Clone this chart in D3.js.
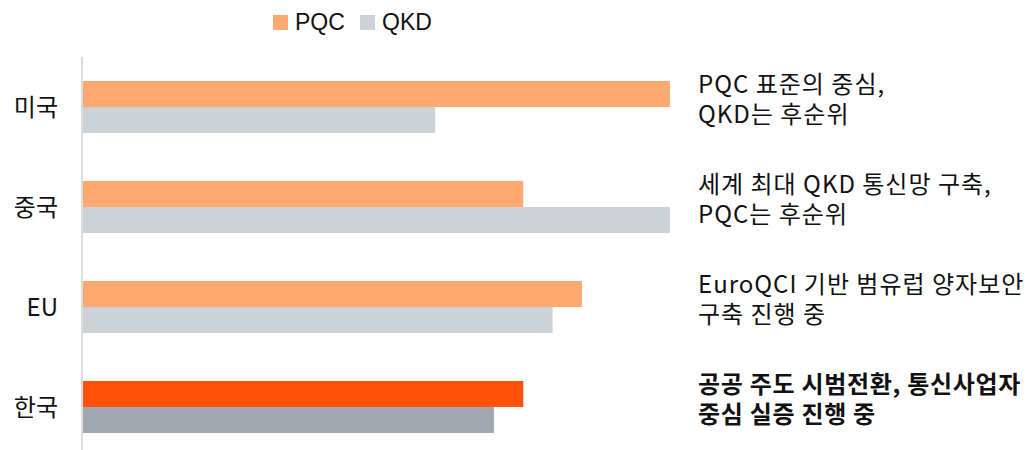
<!DOCTYPE html>
<html>
<head>
<meta charset="utf-8">
<script src="https://cdn.jsdelivr.net/npm/d3@7"></script>
<style>
    body { margin: 0; background: #fff; }
    text { font-family: "Noto Sans CJK KR", "Noto Sans", sans-serif; fill: #111; }
</style>
</head>
<body>
<div id="chart"></div>
<script>
// data
const countries = ['미국', '중국', 'EU', '한국'];
const seriesNames = ['PQC', 'QKD'];
const pqcValues = [100, 75, 85, 75];
const qkdValues = [60, 100, 80, 70];
const notes = [
    ['PQC 표준의 중심,', 'QKD는 후순위'],
    ['세계 최대 QKD 통신망 구축,', 'PQC는 후순위'],
    ['EuroQCI 기반 범유럽 양자보안', '구축 진행 중'],
    ['공공 주도 시범전환, 통신사업자', '중심 실증 진행 중']
];

const colors = { PQC: '#ffa970', QKD: '#cdd1d8' };
const highlight = { PQC: '#ff5108', QKD: '#a1a7b1' };
const highlighted = '한국';

const width = 1032, height = 450;
const margin = { top: 57, left: 83, right: 362, bottom: -7 };

const svg = d3.select('#chart').append('svg')
    .attr('width', width)
    .attr('height', height);

const data = countries.map((c, i) => ({
    country: c,
    values: [
        { key: 'PQC', value: pqcValues[i] },
        { key: 'QKD', value: qkdValues[i] }
    ],
    note: notes[i]
}));

const yScale = d3.scaleBand()
    .domain(countries)
    .range([margin.top, height - margin.bottom])
    .paddingInner(0.48)
    .paddingOuter(0.24);

const ySub = d3.scaleBand()
    .domain(seriesNames)
    .range([0, yScale.bandwidth()]);

const xScale = d3.scaleLinear()
    .domain([0, 100])
    .range([margin.left, width - margin.right]);

const groups = svg.selectAll('.group')
    .data(data)
    .join('g')
    .attr('class', 'group')
    .attr('transform', d => `translate(0,${yScale(d.country)})`);

groups.selectAll('rect')
    .data(d => d.values.map(v => ({ ...v, country: d.country })))
    .join('rect')
    .attr('x', xScale(0))
    .attr('y', d => ySub(d.key))
    .attr('width', d => xScale(d.value) - xScale(0))
    .attr('height', ySub.bandwidth())
    .attr('fill', d => d.country === highlighted ? highlight[d.key] : colors[d.key]);

// axis line
svg.append('line')
    .attr('x1', margin.left - 1).attr('x2', margin.left - 1)
    .attr('y1', margin.top).attr('y2', height)
    .attr('stroke', '#dcdcdc')
    .attr('stroke-width', 2);

// category labels
const yAxis = d3.axisLeft(yScale).tickSize(0).tickPadding(25);
svg.append('g')
    .attr('transform', `translate(${margin.left},0)`)
    .call(yAxis)
    .call(g => g.select('.domain').remove())
    .call(g => g.selectAll('text')
        .attr('font-size', 24)
        .attr('dy', '0.36em')
        .style('font-family', '"Noto Sans CJK KR", sans-serif')
        .attr('fill', '#111'));

// notes
groups.append('text')
    .attr('x', 698)
    .attr('font-size', 24)
    .attr('font-weight', d => d.country === highlighted ? 700 : 400)
    .attr('letter-spacing', d => d.country === highlighted ? '0.7px' : '1px')
    .selectAll('tspan')
    .data(d => d.note)
    .join('tspan')
    .attr('x', 698)
    .attr('y', (d, i) => yScale.bandwidth() / 2 - 14 + i * 30)
    .text(d => d);

// legend
const legend = svg.append('g')
    .attr('transform', 'translate(273,15)');

const legendItems = legend.selectAll('g')
    .data(seriesNames)
    .join('g')
    .attr('transform', (d, i) => `translate(${i * 87},0)`);

legendItems.append('rect')
    .attr('width', 15)
    .attr('height', 15)
    .attr('fill', d => colors[d]);

legendItems.append('text')
    .attr('x', 22)
    .attr('y', 15)
    .attr('font-size', 23)
    .style('font-family', '"Liberation Sans", Arial, sans-serif')
    .text(d => d);
</script>
</body>
</html>
